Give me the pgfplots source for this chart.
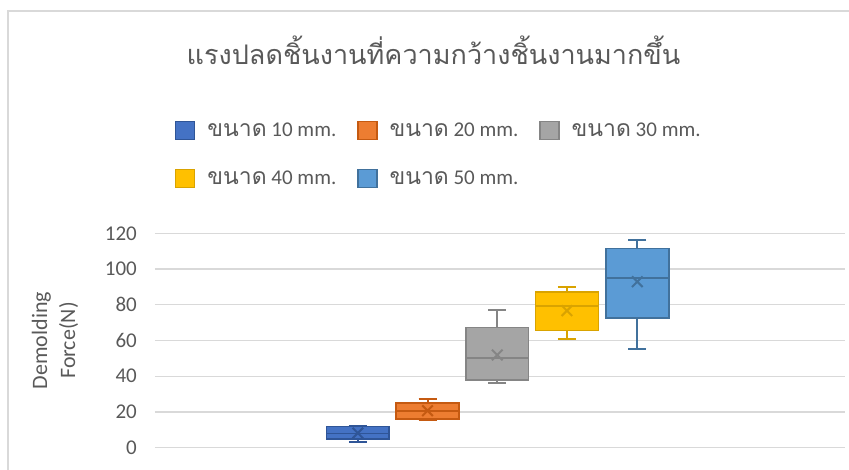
\documentclass[border=0pt]{standalone}
\usepackage{fontspec}
\setmainfont{Carlito}
\newfontfamily\thaifont[Script=Thai]{Loma}
\usepackage{pgfplots}
\pgfplotsset{compat=1.18}
\usepgfplotslibrary{statistics}

\definecolor{textgray}{HTML}{595959}
\definecolor{gridgray}{HTML}{D9D9D9}
\definecolor{frame}{HTML}{D9D9D9}
\definecolor{cA}{HTML}{4472C4}\definecolor{cAd}{HTML}{2F5597}
\definecolor{cB}{HTML}{ED7D31}\definecolor{cBd}{HTML}{C55A11}
\definecolor{cC}{HTML}{A5A5A5}\definecolor{cCd}{HTML}{858585}
\definecolor{cD}{HTML}{FFC000}\definecolor{cDd}{HTML}{D9A300}
\definecolor{cE}{HTML}{5B9BD5}\definecolor{cEd}{HTML}{41719C}

\newcommand{\thw}[1]{{\thaifont\fontsize{23}{24}\selectfont #1}}

\pgfplotsset{
  sq/.style 2 args={legend image code/.code={%
    \filldraw[draw=#1,fill=#2,line width=1.2pt] (0pt,-9pt) rectangle (19pt,9pt);}},
  bx/.style 2 args={solid, draw=#1, fill=#2, line width=1.6pt, mark=none, forget plot,
    boxplot/draw direction=y,
    boxplot/every median/.style={draw=#1, line width=1.8pt},
    boxplot/every whisker/.style={draw=#1, line width=2pt}},
  mn/.style={only marks, mark=x, mark size=7.5pt, line width=2pt, forget plot},
}

\begin{document}
\begin{tikzpicture}
\path[use as bounding box] (0pt,0pt) rectangle (849pt,470pt);
\draw[draw=frame, line width=1.2pt] (8pt,0pt) -- (8pt,459pt) -- (849pt,459pt);
\node[anchor=base, text=textgray, font=\thaifont\fontsize{27}{32}\selectfont]
  at (433.5pt,405pt) {แรงปลดชิ้นงานที่ความกว้างชิ้นงานมากขึ้น};
\begin{axis}[
  at={(155pt,22.3pt)}, anchor=south west,
  scale only axis, width=690pt, height=214.4pt,
  xmin=0, xmax=10, ymin=0, ymax=120,
  ytick={0,20,...,120}, xtick=\empty,
  ymajorgrids, major grid style={draw=gridgray, line width=1.4pt},
  axis line style={draw=none}, tick style={draw=none},
  /pgf/number format/assume math mode=true,
  yticklabel style={text=textgray, font=\fontsize{21}{24}\selectfont, inner sep=0pt, xshift=-18pt},
  ylabel={Demolding\\Force(N)},
  ylabel style={at={(axis description cs:-0.145,0.5)}, anchor=center, align=center,
    text=textgray, font=\fontsize{22}{28}\selectfont},
  legend columns=3,
  legend style={at={(axis description cs:0.029,1.525)}, anchor=north west,
    draw=none, fill=none, inner sep=0pt, text=textgray,
    font=\fontsize{21}{24}\selectfont, row sep=29pt,
    /tikz/every odd column/.append style={column sep=10pt},
    /tikz/every even column/.append style={column sep=19pt}},
  legend cell align=left,
]
% five widths, one box each
\addplot[bx={cAd}{cA}, boxplot prepared={lower whisker=3.0, lower quartile=4.9, median=8.0,
  upper quartile=11.8, upper whisker=12.3, draw position=2.94, box extend=0.91, whisker extend=0.26}]
  coordinates {};
\addplot[bx={cBd}{cB}, boxplot prepared={lower whisker=15.5, lower quartile=16.2, median=20.5,
  upper quartile=25.0, upper whisker=27.3, draw position=3.95, box extend=0.91, whisker extend=0.26}]
  coordinates {};
\addplot[bx={cCd}{cC}, boxplot prepared={lower whisker=36.2, lower quartile=37.9, median=50.4,
  upper quartile=67.2, upper whisker=77.2, draw position=4.96, box extend=0.91, whisker extend=0.26}]
  coordinates {};
\addplot[bx={cDd}{cD}, boxplot prepared={lower whisker=61.0, lower quartile=65.5, median=79.3,
  upper quartile=87.0, upper whisker=90.1, draw position=5.97, box extend=0.91, whisker extend=0.26}]
  coordinates {};
\addplot[bx={cEd}{cE}, boxplot prepared={lower whisker=55.4, lower quartile=72.7, median=95.1,
  upper quartile=111.6, upper whisker=116.2, draw position=6.99, box extend=0.91, whisker extend=0.26}]
  coordinates {};
% means
\addplot[mn, cAd] coordinates {(2.94,8.2)};
\addplot[mn, cBd] coordinates {(3.95,20.7)};
\addplot[mn, cCd] coordinates {(4.96,51.9)};
\addplot[mn, cDd] coordinates {(5.97,76.7)};
\addplot[mn, cEd] coordinates {(6.99,92.9)};
% legend
\addlegendimage{sq={cAd}{cA}}\addlegendentry{\thw{ขนาด} 10 mm.}
\addlegendimage{sq={cBd}{cB}}\addlegendentry{\thw{ขนาด} 20 mm.}
\addlegendimage{sq={cCd}{cC}}\addlegendentry{\thw{ขนาด} 30 mm.}
\addlegendimage{sq={cDd}{cD}}\addlegendentry{\thw{ขนาด} 40 mm.}
\addlegendimage{sq={cEd}{cE}}\addlegendentry{\thw{ขนาด} 50 mm.}
\end{axis}
\end{tikzpicture}
\end{document}
